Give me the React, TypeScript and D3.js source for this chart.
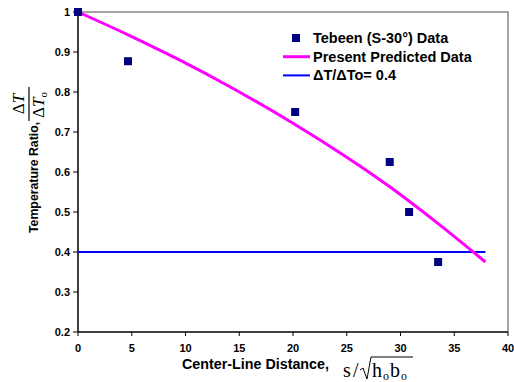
import { useEffect, useRef } from 'react'
import * as d3 from 'd3'

// Tebeen (S-30°) measured points
const dataX = [0, 4.65, 20.2, 29.0, 30.8, 33.5]
const dataY = [1.0, 0.877, 0.75, 0.625, 0.5, 0.375]

// present predicted curve
const predX = [0, 4.65, 9.3, 14, 20, 25, 29, 33.5, 37.9]
const predY = [1.0, 0.943, 0.882, 0.815, 0.722, 0.637, 0.563, 0.471, 0.375]

// reference line
const refValue = 0.4
const refXEnd = 37.9

const xTicks = [0, 5, 10, 15, 20, 25, 30, 35, 40]
const yTicks = [0.2, 0.3, 0.4, 0.5, 0.6, 0.7, 0.8, 0.9, 1]

const legendLabels = ['Tebeen (S-30°) Data', 'Present Predicted Data', 'ΔT/ΔTo= 0.4']

export default function App() {
  const svgRef = useRef<SVGSVGElement>(null)
  const width = 514
  const height = 382

  useEffect(() => {
    if (!svgRef.current) return
    const svg = d3.select(svgRef.current)
    svg.selectAll('*').remove()

    const margin = { top: 12, right: 6, bottom: 50, left: 78 }
    const font = 'Arial, "Liberation Sans", sans-serif'
    const serif = '"Liberation Serif", "DejaVu Serif", serif'

    const x = d3.scaleLinear().domain([0, 40]).range([margin.left, width - margin.right])
    const y = d3.scaleLinear().domain([0.2, 1]).range([height - margin.bottom, margin.top])

    // frame: top/right gray
    svg.append('path')
      .attr('d', `M${x(0)},${y(1)}H${x(40)}V${y(0.2)}`)
      .style('fill', 'none')
      .style('stroke', '#888')
      .style('stroke-width', '1.5px')

    // axes
    svg.append('line')
      .attr('x1', x(0)).attr('x2', x(40))
      .attr('y1', y(0.2)).attr('y2', y(0.2))
      .style('stroke', '#000').style('stroke-width', '1.5px')
    svg.append('line')
      .attr('x1', x(0)).attr('x2', x(0))
      .attr('y1', y(0.2)).attr('y2', y(1))
      .style('stroke', '#000').style('stroke-width', '1.5px')

    xTicks.forEach(t => {
      svg.append('line')
        .attr('x1', x(t)).attr('x2', x(t))
        .attr('y1', y(0.2)).attr('y2', y(0.2) + 4)
        .style('stroke', '#000')
      svg.append('text')
        .attr('x', x(t))
        .attr('y', y(0.2) + 20)
        .attr('text-anchor', 'middle')
        .style('font-family', font)
        .style('font-weight', 'bold')
        .style('font-size', '11px')
        .text(String(t))
    })

    yTicks.forEach(t => {
      svg.append('line')
        .attr('x1', x(0) - 5).attr('x2', x(0))
        .attr('y1', y(t)).attr('y2', y(t))
        .style('stroke', '#000')
      svg.append('text')
        .attr('x', x(0) - 8)
        .attr('y', y(t) + 4)
        .attr('text-anchor', 'end')
        .style('font-family', font)
        .style('font-weight', 'bold')
        .style('font-size', '11px')
        .text(String(t))
    })

    // reference line
    svg.append('line')
      .attr('x1', x(0)).attr('x2', x(refXEnd))
      .attr('y1', y(refValue)).attr('y2', y(refValue))
      .style('stroke', '#0000FF')
      .style('stroke-width', '2px')

    // predicted curve
    const line = d3.line<number>()
      .x((_, i) => x(predX[i]))
      .y(d => y(d))
      .curve(d3.curveCatmullRom)
    svg.append('path')
      .attr('d', line(predY))
      .style('fill', 'none')
      .style('stroke', '#FF00FF')
      .style('stroke-width', '3px')

    // data markers
    const sz = 8
    dataX.forEach((dx, i) => {
      svg.append('rect')
        .attr('x', x(dx) - sz / 2)
        .attr('y', y(dataY[i]) - sz / 2)
        .attr('width', sz)
        .attr('height', sz)
        .style('fill', '#000080')
    })

    // legend
    const lx = 283
    const ly = 38
    const step = 18.7
    legendLabels.forEach((label, i) => {
      const cy = ly + i * step
      if (i === 0) {
        svg.append('rect')
          .attr('x', lx + 9).attr('y', cy - 4)
          .attr('width', 8).attr('height', 8)
          .style('fill', '#000080')
      } else {
        svg.append('line')
          .attr('x1', lx).attr('x2', lx + 27)
          .attr('y1', cy).attr('y2', cy)
          .style('stroke', i === 1 ? '#FF00FF' : '#0000FF')
          .style('stroke-width', i === 1 ? '3px' : '2px')
      }
      svg.append('text')
        .attr('x', lx + 30)
        .attr('y', cy + 5)
        .style('font-family', font)
        .style('font-weight', 'bold')
        .style('font-size', '14.5px')
        .text(label)
    })

    // x-axis title
    svg.append('text')
      .attr('x', 182)
      .attr('y', 369)
      .style('font-family', font)
      .style('font-weight', 'bold')
      .style('font-size', '14.3px')
      .text('Center-Line Distance,')

    const fx = svg.append('g').attr('transform', 'translate(343,377)')
    fx.append('text')
      .style('font-family', serif)
      .style('font-size', '20px')
      .text('s')
    fx.append('text')
      .attr('x', 10)
      .style('font-family', serif)
      .style('font-size', '20px')
      .text('/')
    fx.append('path')
      .attr('d', 'M17,-7 L20,-9 L24,2 L28,-20 L70,-20')
      .style('fill', 'none')
      .style('stroke', '#000')
      .style('stroke-width', '1px')
    const hb = fx.append('text')
      .attr('x', 29)
      .style('font-family', serif)
      .style('font-size', '20px')
    hb.append('tspan').text('h')
    hb.append('tspan').attr('dy', 3).attr('dx', 1).style('font-size', '12px').text('o')
    hb.append('tspan').attr('dy', -3).attr('dx', 1).text('b')
    hb.append('tspan').attr('dy', 3).attr('dx', 1).style('font-size', '12px').text('o')

    // y-axis title (rotated)
    const gy = svg.append('g').attr('transform', 'translate(38,233) rotate(-90)')
    gy.append('text')
      .attr('x', 0)
      .attr('y', 0)
      .style('font-family', font)
      .style('font-weight', 'bold')
      .style('font-size', '12.3px')
      .text('Temperature Ratio,')
    const fracX = 112
    gy.append('line')
      .attr('x1', fracX).attr('x2', fracX + 34)
      .attr('y1', -9).attr('y2', -9)
      .style('stroke', '#000')
      .style('stroke-width', '1.2px')
    const num = gy.append('text')
      .attr('x', fracX + 17)
      .attr('y', -14)
      .attr('text-anchor', 'middle')
      .style('font-family', serif)
      .style('font-size', '17px')
    num.append('tspan').text('Δ')
    num.append('tspan').style('font-style', 'italic').text('T')
    const den = gy.append('text')
      .attr('x', fracX + 16)
      .attr('y', 6)
      .attr('text-anchor', 'middle')
      .style('font-family', serif)
      .style('font-size', '17px')
    den.append('tspan').text('Δ')
    den.append('tspan').style('font-style', 'italic').text('T')
    den.append('tspan').attr('dy', 3).style('font-size', '11px').text('o')
  }, [])

  return (
    <svg
      ref={svgRef}
      width={width}
      height={height}
      style={{ position: 'absolute', left: 0, top: 0, background: '#fff' }}
    />
  )
}
